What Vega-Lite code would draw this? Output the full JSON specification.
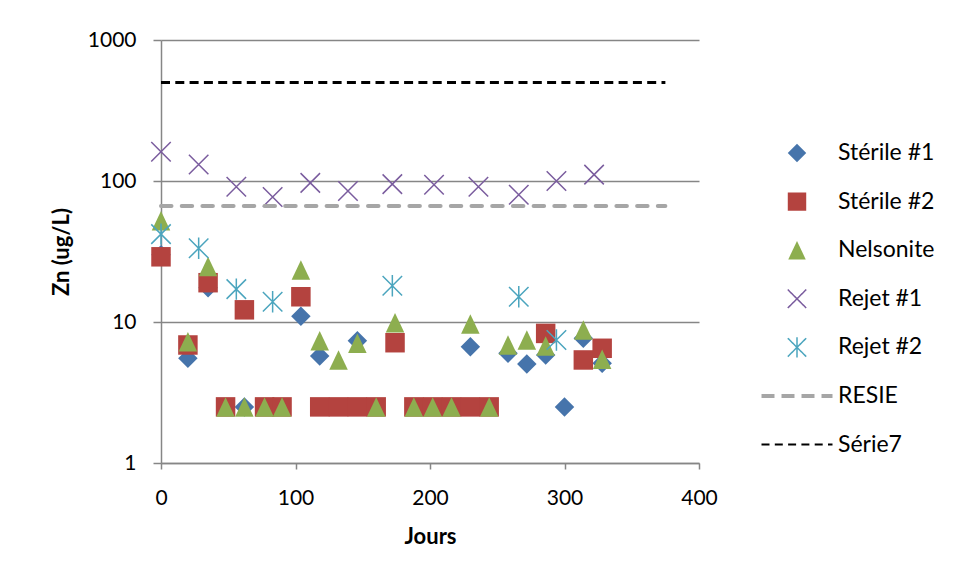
{
  "$schema": "https://vega.github.io/schema/vega-lite/v6.json",
  "width": 538,
  "height": 423,
  "autosize": "none",
  "padding": {"left": 161, "top": 40, "right": 255, "bottom": 115},
  "background": "white",
  "config": {"view": {"stroke": null}, "font": "Lato"},
  "datasets": {
    "points": [
      {"series": "Stérile #1", "day": 0, "zn": 30},
      {"series": "Stérile #1", "day": 20, "zn": 5.53},
      {"series": "Stérile #1", "day": 35, "zn": 17.5},
      {"series": "Stérile #1", "day": 62, "zn": 2.5},
      {"series": "Stérile #1", "day": 104, "zn": 11.0},
      {"series": "Stérile #1", "day": 118, "zn": 5.74},
      {"series": "Stérile #1", "day": 146, "zn": 7.37},
      {"series": "Stérile #1", "day": 230, "zn": 6.68},
      {"series": "Stérile #1", "day": 258, "zn": 6.0},
      {"series": "Stérile #1", "day": 272, "zn": 5.04},
      {"series": "Stérile #1", "day": 286, "zn": 5.83},
      {"series": "Stérile #1", "day": 300, "zn": 2.5},
      {"series": "Stérile #1", "day": 314, "zn": 7.66},
      {"series": "Stérile #1", "day": 328, "zn": 5.1},
      {"series": "Stérile #2", "day": 0, "zn": 29},
      {"series": "Stérile #2", "day": 20, "zn": 6.87},
      {"series": "Stérile #2", "day": 35, "zn": 19},
      {"series": "Stérile #2", "day": 48, "zn": 2.5},
      {"series": "Stérile #2", "day": 62, "zn": 12.2},
      {"series": "Stérile #2", "day": 77, "zn": 2.5},
      {"series": "Stérile #2", "day": 90, "zn": 2.5},
      {"series": "Stérile #2", "day": 104, "zn": 15.1},
      {"series": "Stérile #2", "day": 118, "zn": 2.5},
      {"series": "Stérile #2", "day": 132, "zn": 2.5},
      {"series": "Stérile #2", "day": 146, "zn": 2.5},
      {"series": "Stérile #2", "day": 160, "zn": 2.5},
      {"series": "Stérile #2", "day": 174, "zn": 7.13},
      {"series": "Stérile #2", "day": 188, "zn": 2.5},
      {"series": "Stérile #2", "day": 202, "zn": 2.5},
      {"series": "Stérile #2", "day": 216, "zn": 2.5},
      {"series": "Stérile #2", "day": 230, "zn": 2.5},
      {"series": "Stérile #2", "day": 244, "zn": 2.5},
      {"series": "Stérile #2", "day": 286, "zn": 8.3},
      {"series": "Stérile #2", "day": 314, "zn": 5.38},
      {"series": "Stérile #2", "day": 328, "zn": 6.51},
      {"series": "Nelsonite", "day": 0, "zn": 52.3},
      {"series": "Nelsonite", "day": 20, "zn": 7.25},
      {"series": "Nelsonite", "day": 35, "zn": 24.8},
      {"series": "Nelsonite", "day": 48, "zn": 2.5},
      {"series": "Nelsonite", "day": 62, "zn": 2.5},
      {"series": "Nelsonite", "day": 77, "zn": 2.5},
      {"series": "Nelsonite", "day": 90, "zn": 2.5},
      {"series": "Nelsonite", "day": 104, "zn": 23.4},
      {"series": "Nelsonite", "day": 118, "zn": 7.37},
      {"series": "Nelsonite", "day": 132, "zn": 5.38},
      {"series": "Nelsonite", "day": 146, "zn": 7.06},
      {"series": "Nelsonite", "day": 160, "zn": 2.5},
      {"series": "Nelsonite", "day": 174, "zn": 9.89},
      {"series": "Nelsonite", "day": 188, "zn": 2.5},
      {"series": "Nelsonite", "day": 202, "zn": 2.5},
      {"series": "Nelsonite", "day": 216, "zn": 2.5},
      {"series": "Nelsonite", "day": 230, "zn": 9.68},
      {"series": "Nelsonite", "day": 244, "zn": 2.5},
      {"series": "Nelsonite", "day": 258, "zn": 6.87},
      {"series": "Nelsonite", "day": 272, "zn": 7.45},
      {"series": "Nelsonite", "day": 286, "zn": 6.76},
      {"series": "Nelsonite", "day": 314, "zn": 8.78},
      {"series": "Nelsonite", "day": 328, "zn": 5.44},
      {"series": "Rejet #1", "day": 0, "zn": 161},
      {"series": "Rejet #1", "day": 28, "zn": 131},
      {"series": "Rejet #1", "day": 56, "zn": 91},
      {"series": "Rejet #1", "day": 83, "zn": 77},
      {"series": "Rejet #1", "day": 111, "zn": 97},
      {"series": "Rejet #1", "day": 139, "zn": 85},
      {"series": "Rejet #1", "day": 172, "zn": 95},
      {"series": "Rejet #1", "day": 203, "zn": 94},
      {"series": "Rejet #1", "day": 236, "zn": 91},
      {"series": "Rejet #1", "day": 266, "zn": 80},
      {"series": "Rejet #1", "day": 294, "zn": 100},
      {"series": "Rejet #1", "day": 322, "zn": 111},
      {"series": "Rejet #2", "day": 0, "zn": 42},
      {"series": "Rejet #2", "day": 28, "zn": 33.3},
      {"series": "Rejet #2", "day": 56, "zn": 17.1},
      {"series": "Rejet #2", "day": 83, "zn": 13.9},
      {"series": "Rejet #2", "day": 172, "zn": 18.1},
      {"series": "Rejet #2", "day": 266, "zn": 15.1},
      {"series": "Rejet #2", "day": 294, "zn": 7.45}
    ],
    "lines": [
      {"series": "RESIE", "x0": 0, "x1": 375, "zn": 66.5},
      {"series": "Série7", "x0": 0, "x1": 375, "zn": 500}
    ]
  },
  "layer": [
    {
      "data": {"name": "points"},
      "mark": {"type": "point", "filled": false, "opacity": 1, "size": 380, "strokeWidth": 1.5},
      "encoding": {
        "x": {
          "field": "day", "type": "quantitative", "title": "Jours",
          "scale": {"domain": [0, 400], "nice": false, "zero": false},
          "axis": {
            "values": [0, 100, 200, 300, 400], "grid": false,
            "domainColor": "#868686", "domainWidth": 1.5,
            "tickColor": "#868686", "tickWidth": 1.5, "tickSize": 6,
            "labelFont": "Lato", "labelFontSize": 21, "labelColor": "#000000", "labelPadding": 18,
            "labelFlush": false,
            "titleFont": "Lato", "titleFontSize": 22, "titleFontWeight": "bold", "titleColor": "#000000", "titlePadding": 18
          }
        },
        "y": {
          "field": "zn", "type": "quantitative", "title": "Zn (ug/L)",
          "scale": {"type": "log", "domain": [1, 1000], "nice": false},
          "axis": {
            "values": [1, 10, 100, 1000], "format": "d", "grid": true,
            "gridColor": "#868686", "gridWidth": 1.5,
            "domainColor": "#868686", "domainWidth": 1.5,
            "tickColor": "#868686", "tickWidth": 1.5, "tickSize": 8,
            "labelFont": "Lato", "labelFontSize": 21, "labelColor": "#000000", "labelPadding": 17,
            "labelFlush": false,
            "titleFont": "Lato", "titleFontSize": 22, "titleFontWeight": "bold", "titleColor": "#000000", "titlePadding": 14
          }
        },
        "shape": {
          "field": "series", "type": "nominal",
          "scale": {
            "domain": ["Stérile #1", "Stérile #2", "Nelsonite", "Rejet #1", "Rejet #2", "RESIE", "Série7"],
            "range": ["diamond", "square", "M0,-1L-0.95,1H0.95Z", "M-1,-1L1,1M-1,1L1,-1", "M-1,-1L1,1M-1,1L1,-1M0,-1.1L0,1.1", "M-1,0H1", "M-1,0H1"]
          },
          "legend": {
            "orient": "none", "legendX": 598.5, "legendY": 90, "direction": "vertical", "columns": 1,
            "title": null, "clipHeight": 46, "rowPadding": 2.6, "padding": 0,
            "labelFont": "Lato", "labelFontSize": 23, "labelColor": "#000000", "labelOffset": 29.5, "labelLimit": 300,
            "symbolOffset": 26,
            "symbolOpacity": 1,
            "symbolSize": {"expr": "datum.value === 'RESIE' || datum.value === 'Série7' ? 5041 : 340"},
            "symbolStrokeWidth": {"expr": "datum.value === 'RESIE' ? 4 : datum.value === 'Série7' ? 2 : (datum.value === 'Rejet #1' || datum.value === 'Rejet #2') ? 1.5 : 0"},
            "symbolDash": {"expr": "datum.value === 'RESIE' ? [13, 7] : datum.value === 'Série7' ? [8, 5.3] : [1, 0]"}
          }
        },
        "fill": {
          "field": "series", "type": "nominal", "legend": null,
          "scale": {
            "domain": ["Stérile #1", "Stérile #2", "Nelsonite", "Rejet #1", "Rejet #2", "RESIE", "Série7"],
            "range": ["#4674AB", "#B4433F", "#8DAE4F", "transparent", "transparent", "transparent", "transparent"]
          }
        },
        "stroke": {
          "field": "series", "type": "nominal", "legend": null,
          "scale": {
            "domain": ["Stérile #1", "Stérile #2", "Nelsonite", "Rejet #1", "Rejet #2", "RESIE", "Série7"],
            "range": ["transparent", "transparent", "transparent", "#7A5C9E", "#4BA5BE", "#A6A6A6", "#000000"]
          }
        }
      }
    },
    {
      "data": {"name": "lines"},
      "transform": [{"filter": "datum.series === 'RESIE'"}],
      "mark": {"type": "rule", "color": "#A6A6A6", "strokeWidth": 4, "strokeDash": [10.5, 10.2], "strokeCap": "round"},
      "encoding": {
        "x": {"field": "x0", "type": "quantitative", "title": "Jours"},
        "x2": {"field": "x1"},
        "y": {"field": "zn", "type": "quantitative", "title": "Zn (ug/L)"}
      }
    },
    {
      "data": {"name": "lines"},
      "transform": [{"filter": "datum.series === 'Série7'"}],
      "mark": {"type": "rule", "color": "#000000", "strokeWidth": 3, "strokeDash": [9, 5.3], "strokeCap": "butt"},
      "encoding": {
        "x": {"field": "x0", "type": "quantitative", "title": "Jours"},
        "x2": {"field": "x1"},
        "y": {"field": "zn", "type": "quantitative", "title": "Zn (ug/L)"}
      }
    }
  ]
}
